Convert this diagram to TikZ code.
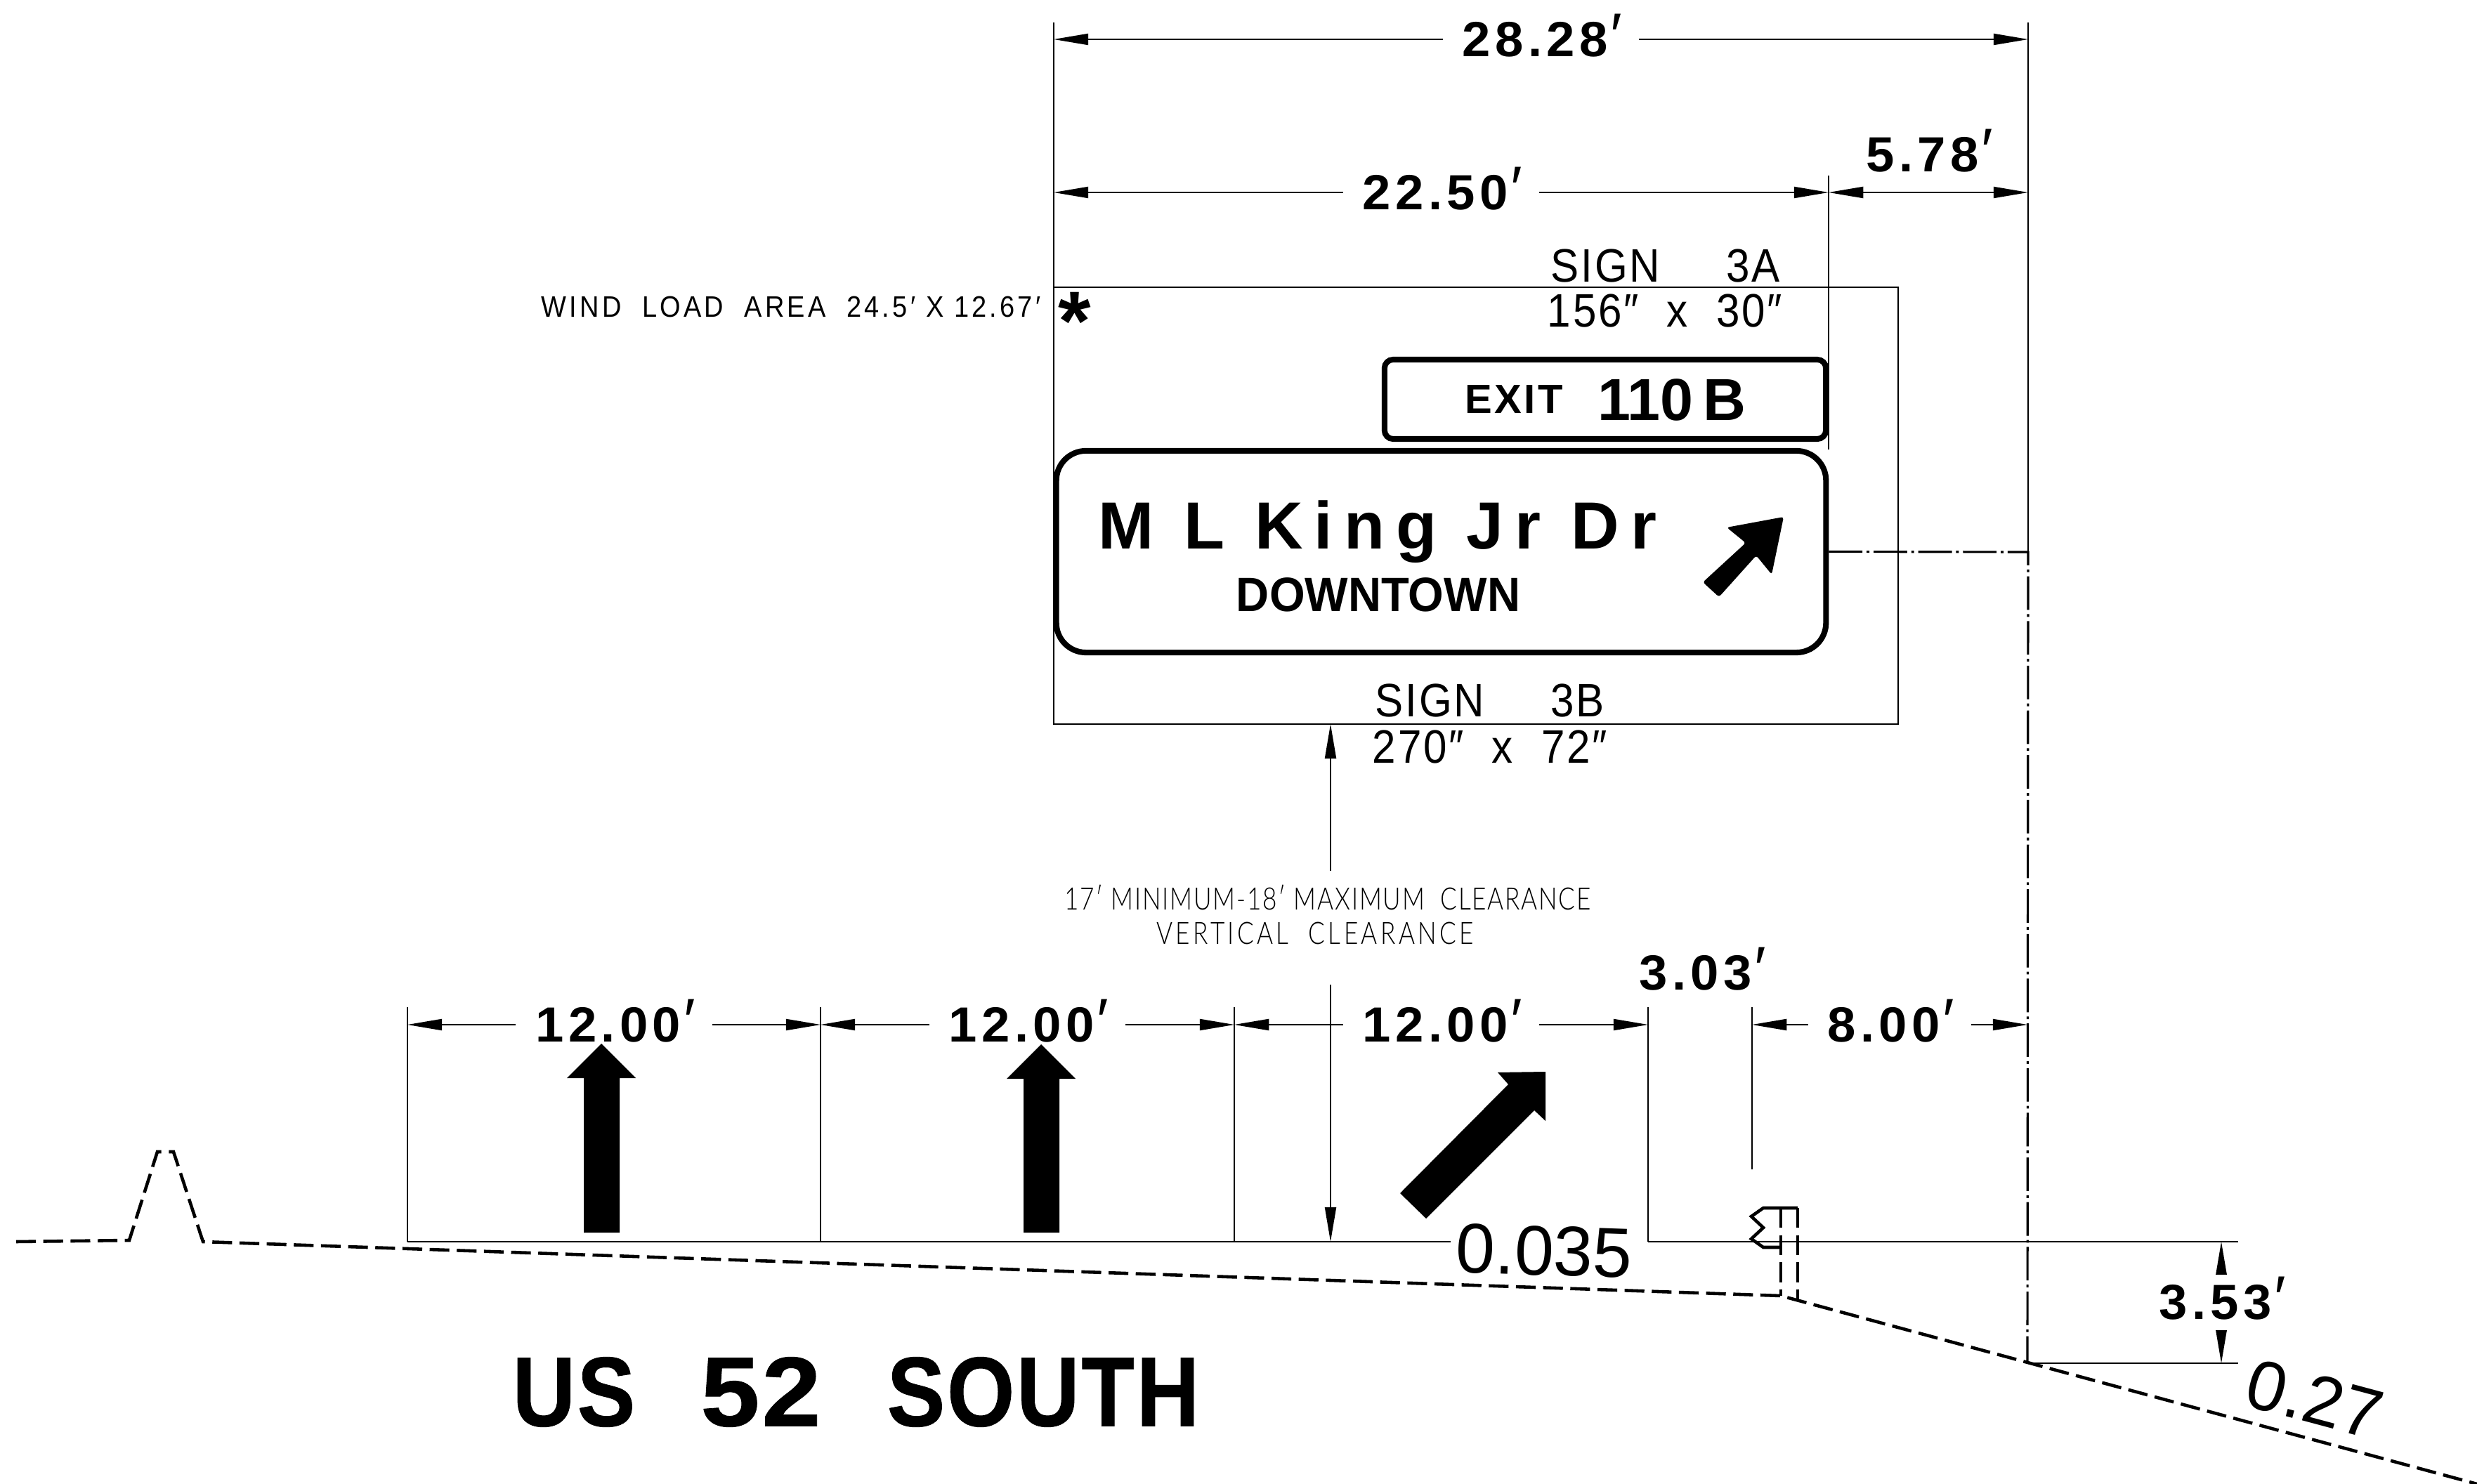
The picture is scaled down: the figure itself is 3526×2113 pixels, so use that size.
\documentclass[tikz,border=0pt]{standalone}
\usepackage{fontspec}
\usetikzlibrary{arrows.meta}
\setmainfont{Liberation Sans}
\newfontfamily\dimfont[FakeStretch=1.03,LetterSpace=9]{Liberation Sans}
\newfontfamily\signfont[LetterSpace=17]{Liberation Sans}
\newfontfamily\exitfont[LetterSpace=6]{Liberation Sans}
\newfontfamily\cityfont[FakeStretch=0.95]{Liberation Sans}
\newfontfamily\routefont[FakeStretch=0.88,LetterSpace=2,FakeBold=0.6]{Liberation Sans}
\newfontfamily\digitfont[FakeStretch=1.08,LetterSpace=2,FakeBold=0.6]{Liberation Sans}
\newfontfamily\notefont[FakeStretch=0.8,LetterSpace=4]{Lato Light}
\newfontfamily\smallfont[FakeStretch=0.9,LetterSpace=4]{Liberation Sans}
\newcommand{\ftmark}{\smash{\normalfont\itshape\fontsize{25}{25}\selectfont ′}}
\tikzset{
    thinline/.style={line width=0.45pt},
    dimline/.style={thinline, <->, >={Triangle[length=14pt,width=4.6pt]}},
    leaderline/.style={thinline, ->, >={Triangle[length=14pt,width=4.6pt]}},
    dimtext/.style={inner sep=0pt, font=\dimfont\bfseries\fontsize{20}{20}\selectfont},
    dimlabel/.style={dimtext, fill=white, inner xsep=8pt, inner ysep=1pt},
    signlabel/.style={inner sep=0pt, font=\smallfont\fontsize{19}{20}\selectfont},
    notelabel/.style={inner sep=0pt, font=\notefont\fontsize{12.5}{13}\selectfont},
    slopelabel/.style={inner sep=0pt, font=\fontsize{28.5}{28}\selectfont},
    routelabel/.style={inner sep=0pt, font=\routefont\bfseries\fontsize{40}{40}\selectfont},
    signbox/.style={draw, line width=2.3pt, inner sep=0pt},
    roadline/.style={line width=1.3pt, dash pattern=on 8pt off 3pt},
    centerline/.style={line width=0.9pt, dash pattern=on 13.6pt off 1.7pt on 1.1pt off 1.7pt},
    pavearrow/.style={fill=black, draw=none}
}
\begin{document}
\begin{tikzpicture}[x=0.01cm, y=-0.01cm]
    \useasboundingbox (0,0) rectangle (3526,2113);
    % Reference points of the section
    \coordinate (signleft) at (1500,32);
    \coordinate (signright) at (2603,250);
    \coordinate (pavright) at (2887,32);
    \coordinate (windtl) at (1500,409);
    \coordinate (windbr) at (2702,1031);
    \coordinate (extA) at (580,1434);
    \coordinate (extB) at (1168,1434);
    \coordinate (extC) at (1757,1434);
    \coordinate (extD) at (2346,1434);
    \coordinate (extE) at (2494,1434);
    \coordinate (extEend) at (2494,1665);
    \coordinate (edgeA) at (580,1768);
    \coordinate (edgeB) at (1168,1768);
    \coordinate (edgeC) at (1757,1768);
    \coordinate (edgeD) at (2346,1768);
    \coordinate (gradeend) at (3186,1768);
    \coordinate (gradebreak) at (2065,1768);
    \coordinate (clearlow) at (1894,1768);
    % Extension lines
    \draw[thinline] (signleft) -- (signleft |- windbr);
    \draw[thinline] (signright) -- (signright |- 0,640);
    \draw[thinline] (windtl) rectangle (windbr);
    \draw[thinline] (pavright) -- (2887,786);
    \foreach \ext/\edge in {extA/edgeA, extB/edgeB, extC/edgeC, extD/edgeD}
        \draw[thinline] (\ext) -- (\edge);
    \draw[thinline] (extE) -- (extEend);
    \draw[thinline] (edgeA) -- (gradebreak);
    \draw[thinline] (edgeD) -- (gradeend);
    \draw[thinline] (2886,1941) coordinate (postfoot) -- (3186,1941) coordinate (footend);
    % Upper dimensions
    \draw[dimline] (1500,56) -- node[dimlabel] (width) {28.28\ftmark} (2887,56);
    \draw[dimline] (1500,274) -- node[dimlabel] (signwidth) {22.50\ftmark} (2603,274);
    \draw[dimline] (2603,274) -- (2887,274);
    \node[dimtext] (offset) at (2745,220) {5.78\ftmark};
    % Lane dimensions
    \draw[dimline] (580,1459) -- node[dimlabel] (laneA) {12.00\ftmark} (1168,1459);
    \draw[dimline] (1168,1459) -- node[dimlabel] (laneB) {12.00\ftmark} (1757,1459);
    \draw[dimline] (1757,1459) -- node[dimlabel] (laneC) {12.00\ftmark} (2346,1459);
    \draw[dimline] (2494,1459) -- node[dimlabel] (shoulder) {8.00\ftmark} (2886,1459);
    \node[dimtext] (gap) at (2422,1385) {3.03\ftmark};
    \draw[dimline] (3162,1768) -- node[dimlabel, inner xsep=0pt, inner ysep=4pt] (drop) {3.53\ftmark} (3162,1941);
    % Vertical clearance
    \draw[leaderline] (1894,1240) coordinate (clearup) -- (1894,1031) coordinate (clearhigh);
    \draw[leaderline] (1894,1402) coordinate (cleardown) -- (clearlow);
    \node[notelabel] (clearA) at (1890,1278) {17′ MINIMUM-18′ MAXIMUM\ \ CLEARANCE};
    \node[notelabel] (clearB) at (1872,1329) {\addfontfeature{LetterSpace=10}VERTICAL\ \ CLEARANCE};
    % Signs
    \node[signbox, rounded corners=3.5pt, minimum width=6.28cm, minimum height=1.13cm] (exitsign) at (2285,568.5) {};
    \node[signbox, rounded corners=12pt, minimum width=10.95cm, minimum height=2.87cm] (mainsign) at (2051.5,785.5) {};
    \draw[centerline] (mainsign.east) -- (2887,786) coordinate (cornerpt) -- (postfoot);
    \node[inner sep=0pt, font=\exitfont\bfseries\fontsize{16.5}{17}\selectfont] (exitword) at (2155,569) {EXIT};
    \node[inner sep=0pt, font=\bfseries\fontsize{24}{25}\selectfont] (exitnum) at (2380,569) {110\,B};
    \node[inner sep=0pt, font=\signfont\bfseries\fontsize{27}{27}\selectfont] (road) at (1961,757) {M L King Jr Dr};
    \node[inner sep=0pt, font=\cityfont\bfseries\fontsize{19.5}{20}\selectfont] (city) at (1962,847) {DOWNTOWN};
    \fill[rounded corners=1pt] (2539,736) -- (2458,751) -- (2485,773) -- (2424,829) -- (2447,850) -- (2500,791) -- (2522,818) -- cycle;
    \node[signlabel] (signAname) at (2371,379) {SIGN\hspace{27pt}3A};
    \node[signlabel] (signAsize) at (2370,443) {156″\hspace{6pt} x \hspace{6pt}30″};
    \node[signlabel] (signBname) at (2121,998) {SIGN\hspace{27pt}3B};
    \node[signlabel] (signBsize) at (2121,1064) {270″\hspace{6pt} x \hspace{6pt}72″};
    \node[inner sep=0pt, font=\smallfont\addfontfeature{LetterSpace=10}\fontsize{12}{13}\selectfont] (wind) at (1126,437) {WIND\ \ LOAD\ \ AREA\ \ 24.5′ X 12.67′};
    \node[inner sep=0pt, font=\bfseries\fontsize{34}{34}\selectfont] (star) at (1530,457) {*};
    % Pavement arrows
    \fill[pavearrow] (856,1486) -- (905,1535) -- (882,1535) -- (882,1755) -- (831,1755) -- (831,1535) -- (807,1535) -- cycle;
    \fill[pavearrow] (1482,1487) -- (1531,1536) -- (1508,1536) -- (1508,1755) -- (1457,1755) -- (1457,1536) -- (1433,1536) -- cycle;
    \fill[pavearrow] (2200,1526) -- (2132,1527) -- (2147,1544) -- (1993,1699) -- (2030,1735) -- (2184,1581) -- (2200,1596) -- cycle;
    % Ground profile
    \draw[roadline] (23,1768) -- (184,1766) -- (224,1640) -- (247,1640) -- (289,1768) -- (2535,1845) -- (3526,2113);
    \draw[roadline] (2535,1720) -- (2535,1845);
    \draw[roadline] (2559,1720) -- (2559,1852);
    \draw[line width=1.3pt] (2535,1776) -- (2510,1776) -- (2493,1764) -- (2510,1748) -- (2493,1732) -- (2510,1720) -- (2559,1720);
    \node[slopelabel, rotate=-2] (slopeA) at (2198,1781) {0.035};
    \node[slopelabel, rotate=-15] (slopeB) at (3295,1992) {0.27};
    \node[routelabel] (routeUS) at (817,1982) {US};
    \node[routelabel, font=\digitfont\bfseries\fontsize{40}{40}\selectfont] (routeNo) at (1083,1982) {52};
    \node[routelabel] (routeDir) at (1485,1982) {SOUTH};
\end{tikzpicture}
\end{document}
